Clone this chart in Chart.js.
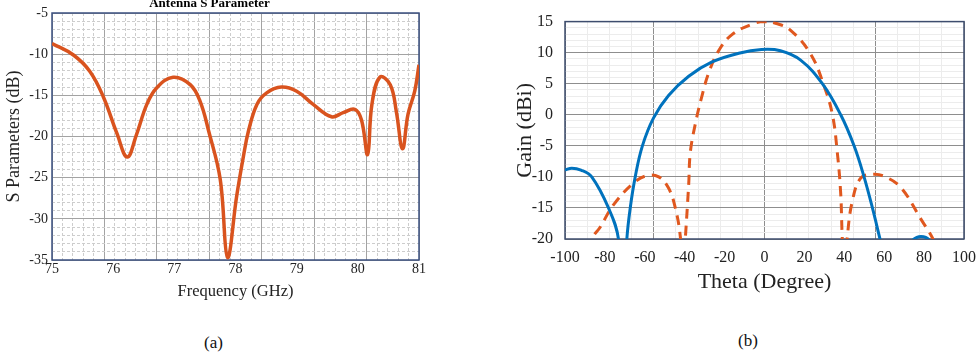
<!DOCTYPE html>
<html>
<head>
<meta charset="utf-8">
<script src="https://cdn.jsdelivr.net/npm/chart.js@4"></script>
<style>
  body { margin: 0; background: #fff; width: 977px; height: 356px; position: relative; overflow: hidden; font-family: "Liberation Serif", serif; }
  #boxA { position: absolute; left: 0; top: 0; width: 440px; height: 305px; }
  #boxB { position: absolute; left: 490px; top: 0; width: 495px; height: 300px; }
  .cap { position: absolute; font-size: 17px; color: #111; }
</style>
</head>
<body>
<div id="boxA"><canvas id="chartA"></canvas></div>
<div id="boxB"><canvas id="chartB"></canvas></div>
<div class="cap" style="left:204px;top:333px">(a)</div>
<div class="cap" style="left:738px;top:331px">(b)</div>
<script>
// (a) S parameter
let freqGHz = [75.0, 75.35, 75.62, 75.84, 76.06, 76.23, 76.38, 76.55, 76.71, 76.98, 77.26, 77.42, 77.56, 77.75, 77.87, 78.02, 78.13, 78.21, 78.35, 78.51, 78.75, 79.0, 79.27, 79.57, 79.76, 79.95, 80.06, 80.16, 80.23, 80.36, 80.53, 80.63, 80.73, 80.82, 80.93, 81.0];
let s11dB = [-8.7, -10.1, -12.1, -15.2, -19.6, -22.5, -19.8, -16.1, -14.1, -12.8, -13.7, -15.7, -19.3, -25.2, -34.7, -27.2, -22.4, -19.4, -16.1, -14.7, -14.0, -14.5, -16.1, -17.6, -17.1, -16.7, -18.0, -22.2, -16.1, -12.8, -13.7, -17.0, -21.5, -17.3, -14.5, -11.3];
let freqTicks = [75, 76, 77, 78, 79, 80, 81];

// (b) radiation pattern
let thetaBlue = [-100, -96.6, -92, -86.6, -78.2, -73.2, -71, -69, -67.3, -64.8, -61.2, -55.6, -48.1, -38, -26.3, -12.9, -1.5, 8, 18.1, 29, 38.2, 44.9, 49.9, 54.1, 57.9, 64, 70, 74.2, 78.4, 82.6, 88, 95, 100];
let gainBlue = [-8.9, -8.6, -8.9, -10, -15, -20, -32, -20, -15, -10, -5, -0.5, 3.1, 6.2, 8.5, 9.9, 10.5, 10.3, 8.8, 5, 0, -5, -10, -15, -20, -28, -22, -20.2, -19.6, -20.2, -24, -30, -32];
let thetaOrange = [-100, -92, -86.6, -82.4, -75.7, -65.7, -59, -53, -48.1, -44.7, -42.2, -41, -39.7, -38, -37.2, -34.7, -31.3, -28, -23, -16.3, -6.2, 0, 6, 13.1, 23.1, 29.8, 34, 36.5, 38.2, 39, 40.3, 41.6, 44.1, 48.2, 54, 59.9, 68.3, 78.4, 85.1, 92, 100];
let gainOrange = [-32, -26, -20, -18.1, -14.5, -11.0, -9.8, -10, -11.8, -15, -19.6, -26, -20, -11.2, -6.1, -1.5, 3.1, 6.7, 10.3, 12.9, 14.6, 15.0, 14.7, 13.6, 9.8, 4.7, 0.1, -6.1, -12.7, -19.9, -26, -19.4, -13.8, -10.2, -9.6, -9.9, -11.7, -16.8, -20.4, -26, -32];

const serif = '"Liberation Serif", "Times New Roman", serif';

let framePlugin = {
  id: 'frame',
  beforeDatasetsDraw(chart, args, opts) {
    const a = chart.chartArea, c = chart.ctx;
    c.save();
    c.strokeStyle = opts.color;
    c.lineWidth = opts.width;
    c.strokeRect(a.left, a.top, a.right - a.left, a.bottom - a.top);
    c.restore();
  }
};

let hidden = (extra) => Object.assign({
  type: 'linear',
  ticks: { display: false },
  border: { display: false },
  afterFit: (s) => { if (s.isHorizontal()) s.height = 0; else s.width = 0; }
}, extra);

let minorColor = (col, every) => (ctx) => {
  const v = ctx.tick ? ctx.tick.value : 0;
  const r = v / every;
  return Math.abs(r - Math.round(r)) < 1e-6 ? 'rgba(0,0,0,0)' : col;
};

let init = () => {
  newChartA();
  newChartB();
};

let newChartA = () => {
  new Chart(document.getElementById('chartA'), {
    type: 'line',
    data: {
      datasets: [{
        data: freqGHz.map((f, i) => ({ x: f, y: s11dB[i] })),
        xAxisID: 'x',
        yAxisID: 'y',
        borderColor: '#d9531e',
        borderWidth: 3.5,
        pointRadius: 0,
        tension: 0.4
      }]
    },
    options: {
      animation: false,
      responsive: true,
      maintainAspectRatio: false,
      devicePixelRatio: 1,
      layout: { padding: { top: 0, right: 21, left: 0, bottom: 0 } },
      plugins: {
        legend: { display: false },
        tooltip: { enabled: false },
        title: {
          display: true, text: 'Antenna S Parameter', color: '#000',
          font: { family: serif, size: 13, weight: 'bold' },
          padding: { top: -4, bottom: 1.4 }
        },
        frame: { color: '#3b5080', width: 1.5 }
      },
      scales: {
        xMinor: hidden({ position: 'bottom', min: 0, max: 7, ticks: { display: false, stepSize: 0.2 },
          grid: { color: minorColor('#cdcdcd', 1), drawTicks: false }, border: { display: false, dash: [3, 2] } }),
        xMajor: hidden({ position: 'bottom', min: 0, max: 7, ticks: { display: false, stepSize: 1 },
          grid: { color: '#a3a3a3', drawTicks: false } }),
        yMinor: hidden({ position: 'left', min: -35, max: -5, ticks: { display: false, stepSize: 1 },
          grid: { color: minorColor('#cdcdcd', 5), drawTicks: false }, border: { display: false, dash: [3, 2] } }),
        x: {
          type: 'linear', position: 'bottom', min: 75, max: 81,
          afterBuildTicks: (s) => { s.ticks = freqTicks.map(v => ({ value: v })); },
          ticks: { font: { family: serif, size: 14 }, color: '#222', padding: 1 },
          grid: { display: false, drawTicks: false },
          border: { display: false },
          title: { display: true, text: 'Frequency (GHz)', color: '#222', font: { family: serif, size: 16.5 }, padding: { top: 0, bottom: 3 } },
          afterFit: (s) => { s.height = 45; }
        },
        y: {
          type: 'linear', position: 'left', min: -35, max: -5,
          ticks: { stepSize: 5, font: { family: serif, size: 14 }, color: '#222', padding: 4 },
          grid: { color: '#a3a3a3', drawTicks: false },
          border: { display: false },
          title: { display: true, text: 'S Parameters (dB)', color: '#222', font: { family: serif, size: 18 }, padding: { top: 3, bottom: 0 } },
          afterFit: (s) => { s.width = 52; }
        }
      }
    },
    plugins: [framePlugin]
  });
};

let newChartB = () => {
  new Chart(document.getElementById('chartB'), {
    type: 'line',
    data: {
      datasets: [{
        data: thetaBlue.map((t, i) => ({ x: t, y: gainBlue[i] })),
        xAxisID: 'x',
        yAxisID: 'y',
        borderColor: '#0072bd',
        borderWidth: 3,
        pointRadius: 0,
        tension: 0.4
      }, {
        data: thetaOrange.map((t, i) => ({ x: t, y: gainOrange[i] })),
        xAxisID: 'x',
        yAxisID: 'y',
        borderColor: '#e0581f',
        borderWidth: 3,
        borderDash: [10, 7],
        pointRadius: 0,
        tension: 0.4
      }]
    },
    options: {
      animation: false,
      responsive: true,
      maintainAspectRatio: false,
      devicePixelRatio: 1,
      layout: { padding: { top: 11, right: 14, left: 0, bottom: 0 } },
      plugins: {
        legend: { display: false },
        tooltip: { enabled: false },
        frame: { color: '#3e4d6e', width: 1.5 }
      },
      scales: {
        xMinor: hidden({ position: 'bottom', min: -1.8, max: 1.8, ticks: { display: false, stepSize: 0.2 },
          grid: { color: minorColor('#ececec', 1), drawTicks: false } }),
        xMajor: hidden({ position: 'bottom', min: -1.8, max: 1.8, ticks: { display: false, stepSize: 1 },
          grid: { color: '#8e8e8e', drawTicks: false } }),
        yMinor: hidden({ position: 'left', min: -20, max: 15, ticks: { display: false, stepSize: 1 },
          grid: { color: minorColor('#ececec', 5), drawTicks: false } }),
        x: {
          type: 'linear', position: 'bottom', min: -100, max: 100,
          ticks: { stepSize: 20, font: { family: serif, size: 16 }, color: '#222', padding: 9 },
          grid: { display: false, drawTicks: false },
          border: { display: false },
          title: { display: true, text: 'Theta (Degree)', color: '#222', font: { family: serif, size: 22 }, padding: { top: 0, bottom: 5 } },
          afterFit: (s) => { s.height = 61; }
        },
        y: {
          type: 'linear', position: 'left', min: -20, max: 15,
          ticks: { stepSize: 5, font: { family: serif, size: 16 }, color: '#222', padding: 12 },
          grid: { color: '#8e8e8e', drawTicks: false },
          border: { display: false },
          title: { display: true, text: 'Gain (dBi)', color: '#222', font: { family: serif, size: 22 }, padding: { top: 22, bottom: 0 } },
          afterFit: (s) => { s.width = 75; }
        }
      }
    },
    plugins: [framePlugin]
  });
};

init();
</script>
</body>
</html>
